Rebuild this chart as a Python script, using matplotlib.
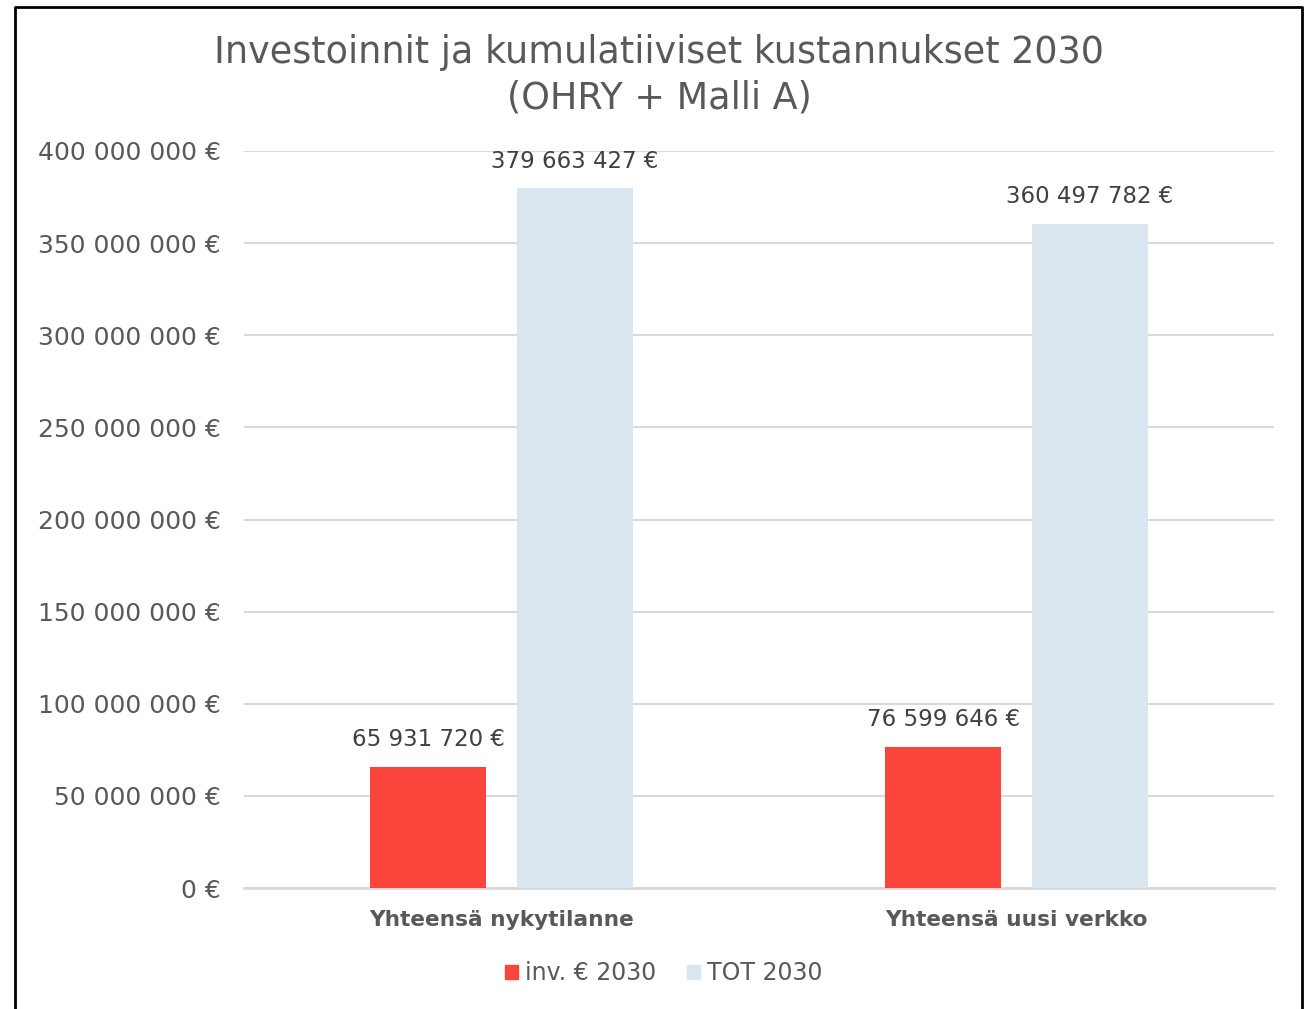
import matplotlib
matplotlib.use('Agg')
import matplotlib.pyplot as plt
import numpy as np
from matplotlib.lines import Line2D
from matplotlib.patches import Patch

# data
categories = ['Yhteensä nykytilanne', 'Yhteensä uusi verkko']
series_names = ['inv. € 2030', 'TOT 2030']
inv_2030 = [65931720, 76599646]
tot_2030 = [379663427, 360497782]
yticks = [0, 50000000, 100000000, 150000000, 200000000, 250000000, 300000000, 350000000, 400000000]

red = '#FA443C'
blue = '#D9E5EF'
txt = '#595959'
grid_col = '#D9D9D9'

plt.rcParams['font.family'] = ['DejaVu Sans']


def eur(v):
    return '{:,}'.format(int(v)).replace(',', ' ') + ' €'


fig = plt.figure(figsize=(13.09, 10.09), dpi=100)
W, H = 1309, 1009
ax = fig.add_axes([244 / W, (H - 888) / H, 1030 / W, 737 / H])

x = np.arange(len(categories))
w = 0.225
off = 0.1425
b1 = ax.bar(x - off, inv_2030, w, color=red, label=series_names[0], zorder=3)
b2 = ax.bar(x + off, tot_2030, w, color=blue, label=series_names[1], zorder=3)

for bars in (b1, b2):
    for r in bars:
        ax.annotate(eur(r.get_height()), (r.get_x() + r.get_width() / 2, r.get_height()),
                    xytext=(0, 19.5), textcoords='offset points', ha='center', va='center',
                    fontsize=16.5, color='#404040')

ax.set_xlim(-0.5, 1.5)
ax.set_ylim(0, 400000000)
ax.set_yticks(yticks)
ax.set_yticklabels([eur(v) for v in yticks], fontsize=18, color=txt)
ax.set_xticks(x)
ax.set_xticklabels(categories, fontsize=15.6, fontweight='bold', color=txt)
ax.tick_params(axis='both', length=0)
ax.tick_params(axis='y', pad=17)
ax.tick_params(axis='x', pad=16)
ax.grid(axis='y', color=grid_col, linewidth=1.5, zorder=0)
for s in ['top', 'right', 'left']:
    ax.spines[s].set_visible(False)
ax.spines['bottom'].set_color(grid_col)
ax.spines['bottom'].set_linewidth(2)

fig.text(659 / W, 1 - 75 / H, 'Investoinnit ja kumulatiiviset kustannukset 2030\n(OHRY + Malli A)',
         ha='center', va='center', fontsize=26.3, color=txt, linespacing=1.28)

handles = [Patch(color=red), Patch(color=blue)]
fig.legend(handles, series_names, loc='center', bbox_to_anchor=(664 / W, 1 - 973 / H), ncol=2,
           frameon=False, fontsize=17, labelcolor=txt, handlelength=0.55, handleheight=0.55,
           handletextpad=0.3, columnspacing=1.3)

# outer chart border
fig.add_artist(Line2D([15 / W, 15 / W, 1302 / W, 1302 / W], [0, 1 - 7 / H, 1 - 7 / H, 0],
                      transform=fig.transFigure, color='black', linewidth=2))

fig.savefig('out.png', dpi=100)
